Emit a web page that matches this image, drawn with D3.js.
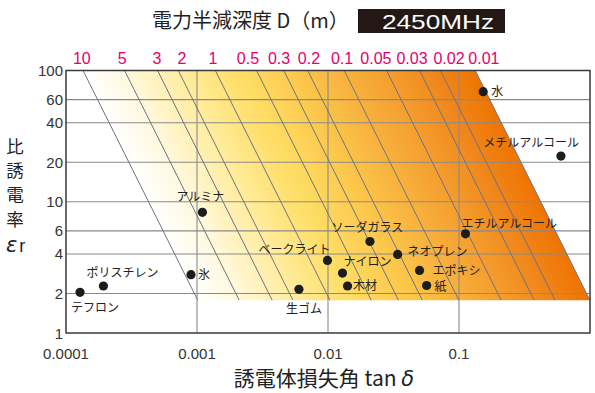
<!DOCTYPE html>
<html><head><meta charset="utf-8">
<script src="https://cdn.jsdelivr.net/npm/d3@7"></script>
<style>
body{margin:0;background:#fff;}
svg{display:block;}
</style></head>
<body>
<svg id="c" width="595" height="393"></svg>
<script>
// ---- data ----
const xTicks = [0.0001, 0.001, 0.01, 0.1];
const xTickLabels = ["0.0001", "0.001", "0.01", "0.1"];
const yTicks = [1, 2, 4, 6, 10, 20, 40, 60, 100];
const yTickLabels = ["1", "2", "4", "6", "10", "20", "40", "60", "100"];
const depthLabels = ["10", "5", "3", "2", "1", "0.5", "0.3", "0.2", "0.1", "0.05", "0.03", "0.02", "0.01"];
// tanδ where each constant-depth line meets εr = 100
const depthTanTop = [1.35e-4, 2.8e-4, 5.0e-4, 7.2e-4, 1.38e-3, 2.85e-3, 4.6e-3, 7.0e-3, 1.33e-2, 2.8e-2, 5.0e-2, 7.2e-2, 1.33e-1];
// tanδ under which each depth label sits
const depthLabelTan = [1.32e-4, 2.68e-4, 4.95e-4, 7.68e-4, 1.325e-3, 2.45e-3, 4.23e-3, 7.16e-3, 1.28e-2, 2.32e-2, 4.38e-2, 8.39e-2, 0.155];
const erTop = 100, erBottom = 1.78;
const materials = ["水", "メチルアルコール", "エチルアルコール", "ソーダガラス", "ネオプレン", "ベークライト", "ナイロン", "木材", "エポキシ", "紙", "生ゴム", "氷", "ポリスチレン", "テフロン", "アルミナ"];
const matTan = [0.153, 0.60, 0.112, 0.0209, 0.034, 0.0099, 0.0129, 0.0141, 0.050, 0.0566, 0.0060, 0.00090, 0.000193, 0.000128, 0.00110];
const matEr = [69, 22.3, 5.7, 4.98, 3.97, 3.57, 2.86, 2.28, 3.0, 2.3, 2.15, 2.78, 2.28, 2.04, 8.3];

// ---- layout ----
const labelPlace = {
  "水": [8, 4.5, "start"],
  "メチルアルコール": [18, -9.5, "end"],
  "エチルアルコール": [-4, -6, "start"],
  "ソーダガラス": [-2.5, -9.5, "middle"],
  "ネオプレン": [10, 2, "start"],
  "ベークライト": [3, -6, "end"],
  "ナイロン": [1, -7, "start"],
  "木材": [5.5, 4, "start"],
  "エポキシ": [13, 4.5, "start"],
  "紙": [8, 5, "start"],
  "生ゴム": [5, 24, "middle"],
  "氷": [7, 4, "start"],
  "ポリスチレン": [19, -9, "middle"],
  "テフロン": [-9, 19.5, "start"],
  "アルミナ": [-2, -11.5, "middle"]
};

const svg = d3.select("#c");
const L = 66, R = 590, T = 70.5, B = 333;
const x = d3.scaleLog().domain([1e-4, 1]).range([L, R]);
const y = d3.scaleLog().domain([1, 100]).range([B, T]);
const jp = "'Noto Sans CJK JP','Noto Sans',sans-serif";
const num = "'Liberation Sans Narrow','Liberation Sans',Arial,sans-serif";

// gradient perpendicular to lines
const k = Math.sqrt(erTop / erBottom);
const first = depthTanTop[0], last = depthTanTop[depthTanTop.length - 1];
const p0 = [x(first), y(erTop)];
const p1b = [x(first * k), y(erBottom)];
let dx = p1b[0] - p0[0], dy = p1b[1] - p0[1];
const len = Math.hypot(dx, dy); dx /= len; dy /= len;
const nx = dy, ny = -dx;
const pr = [x(last), y(erTop)];
const dist = (pr[0] - p0[0]) * nx + (pr[1] - p0[1]) * ny;
const defs = svg.append("defs");
const grad = defs.append("linearGradient").attr("id", "g").attr("gradientUnits", "userSpaceOnUse")
  .attr("x1", p0[0]).attr("y1", p0[1]).attr("x2", p0[0] + nx * dist).attr("y2", p0[1] + ny * dist);
[[0, "#ffffff"], [0.1, "#fff9e0"], [0.25, "#ffec9c"], [0.4, "#ffdd64"], [0.55, "#fbc64a"], [0.75, "#f5a232"], [0.9, "#f0851a"], [1, "#ee7400"]]
  .forEach(s => grad.append("stop").attr("offset", s[0]).attr("stop-color", s[1]));

const poly = [[first, erTop], [last, erTop], [last * k, erBottom], [first * k, erBottom]];
svg.append("path")
  .attr("d", d3.line().x(d => x(d[0])).y(d => y(d[1]))(poly) + "Z")
  .attr("fill", "url(#g)");

// grid
const g = svg.append("g");
g.selectAll(".hg").data(yTicks.filter(v => v > 1 && v < 100)).join("line")
  .attr("x1", L).attr("x2", R).attr("y1", d => y(d)).attr("y2", d => y(d))
  .attr("stroke", "#8a8a8a").attr("stroke-width", 1.1);
g.selectAll(".vg").data(xTicks.filter(v => v > 1e-4)).join("line")
  .attr("y1", T).attr("y2", B).attr("x1", d => x(d)).attr("x2", d => x(d))
  .attr("stroke", "#8a8a8a").attr("stroke-width", 1.1);

// depth lines
g.selectAll(".dl").data(depthTanTop).join("line")
  .attr("x1", d => x(d)).attr("y1", y(erTop))
  .attr("x2", d => x(d * k)).attr("y2", y(erBottom))
  .attr("stroke", "#6e7384").attr("stroke-width", 1);

// frame
svg.append("rect").attr("x", L).attr("y", T).attr("width", R - L).attr("height", B - T)
  .attr("fill", "none").attr("stroke", "#3a3a3a").attr("stroke-width", 1.5);

// depth labels
svg.selectAll(".dlab").data(depthLabels).join("text")
  .attr("x", (d, i) => x(depthLabelTan[i])).attr("y", 64)
  .attr("text-anchor", "middle").attr("font-family", num).attr("font-size", 16)
  .attr("fill", "#e4006a").text(d => d);

// axis labels
svg.selectAll(".yl").data(yTicks).join("text")
  .attr("x", 63).attr("y", d => y(d) + 5.5).attr("text-anchor", "end")
  .attr("font-family", num).attr("font-size", 15).attr("fill", "#333").text((d, i) => yTickLabels[i]);
svg.selectAll(".xl").data(xTicks).join("text")
  .attr("x", d => x(d)).attr("y", 359).attr("text-anchor", "middle")
  .attr("font-family", num).attr("font-size", 15).attr("fill", "#333").text((d, i) => xTickLabels[i]);

// points
const pts = materials.map((m, i) => ({ name: m, t: matTan[i], e: matEr[i] }));
svg.selectAll(".pt").data(pts).join("circle")
  .attr("cx", d => x(d.t)).attr("cy", d => y(d.e)).attr("r", 4.6).attr("fill", "#1c1c1c");
svg.selectAll(".ptl").data(pts).join("text")
  .attr("x", d => x(d.t) + labelPlace[d.name][0]).attr("y", d => y(d.e) + labelPlace[d.name][1])
  .attr("text-anchor", d => labelPlace[d.name][2])
  .attr("font-family", jp).attr("font-size", 12).attr("fill", "#222").text(d => d.name);

// titles
svg.append("text").attr("x", 152).attr("y", 28).attr("font-family", jp).attr("font-size", 20)
  .attr("fill", "#222").text("電力半減深度 D（m）");
svg.append("rect").attr("x", 358).attr("y", 9).attr("width", 147).attr("height", 24).attr("fill", "#231815");
svg.append("text").attr("x", 382).attr("y", 29).attr("font-family", "'Liberation Sans',Arial,sans-serif")
  .attr("font-size", 21).attr("fill", "#fff").attr("textLength", 112).attr("lengthAdjust", "spacingAndGlyphs")
  .text("2450MHz");

["比", "誘", "電", "率"].forEach((c, i) => {
  svg.append("text").attr("x", 15).attr("y", [153, 177, 201, 226][i]).attr("text-anchor", "middle")
    .attr("font-family", jp).attr("font-size", 17.5).attr("fill", "#222").text(c);
});
const er = svg.append("text").attr("x", 6).attr("y", 252).attr("fill", "#222");
er.append("tspan").attr("font-family", "'DejaVu Sans',sans-serif").attr("font-style", "italic").attr("font-size", 21).text("ε");
er.append("tspan").attr("font-family", num).attr("font-size", 18).attr("dx", 2).text("r");

const xt = svg.append("text").attr("x", 324).attr("y", 386).attr("text-anchor", "middle")
  .attr("font-family", jp).attr("font-size", 21).attr("fill", "#222");
xt.append("tspan").text("誘電体損失角 tan ");
xt.append("tspan").attr("font-family", "'DejaVu Sans',sans-serif").attr("font-style", "italic").text("δ");
</script>
</body></html>
